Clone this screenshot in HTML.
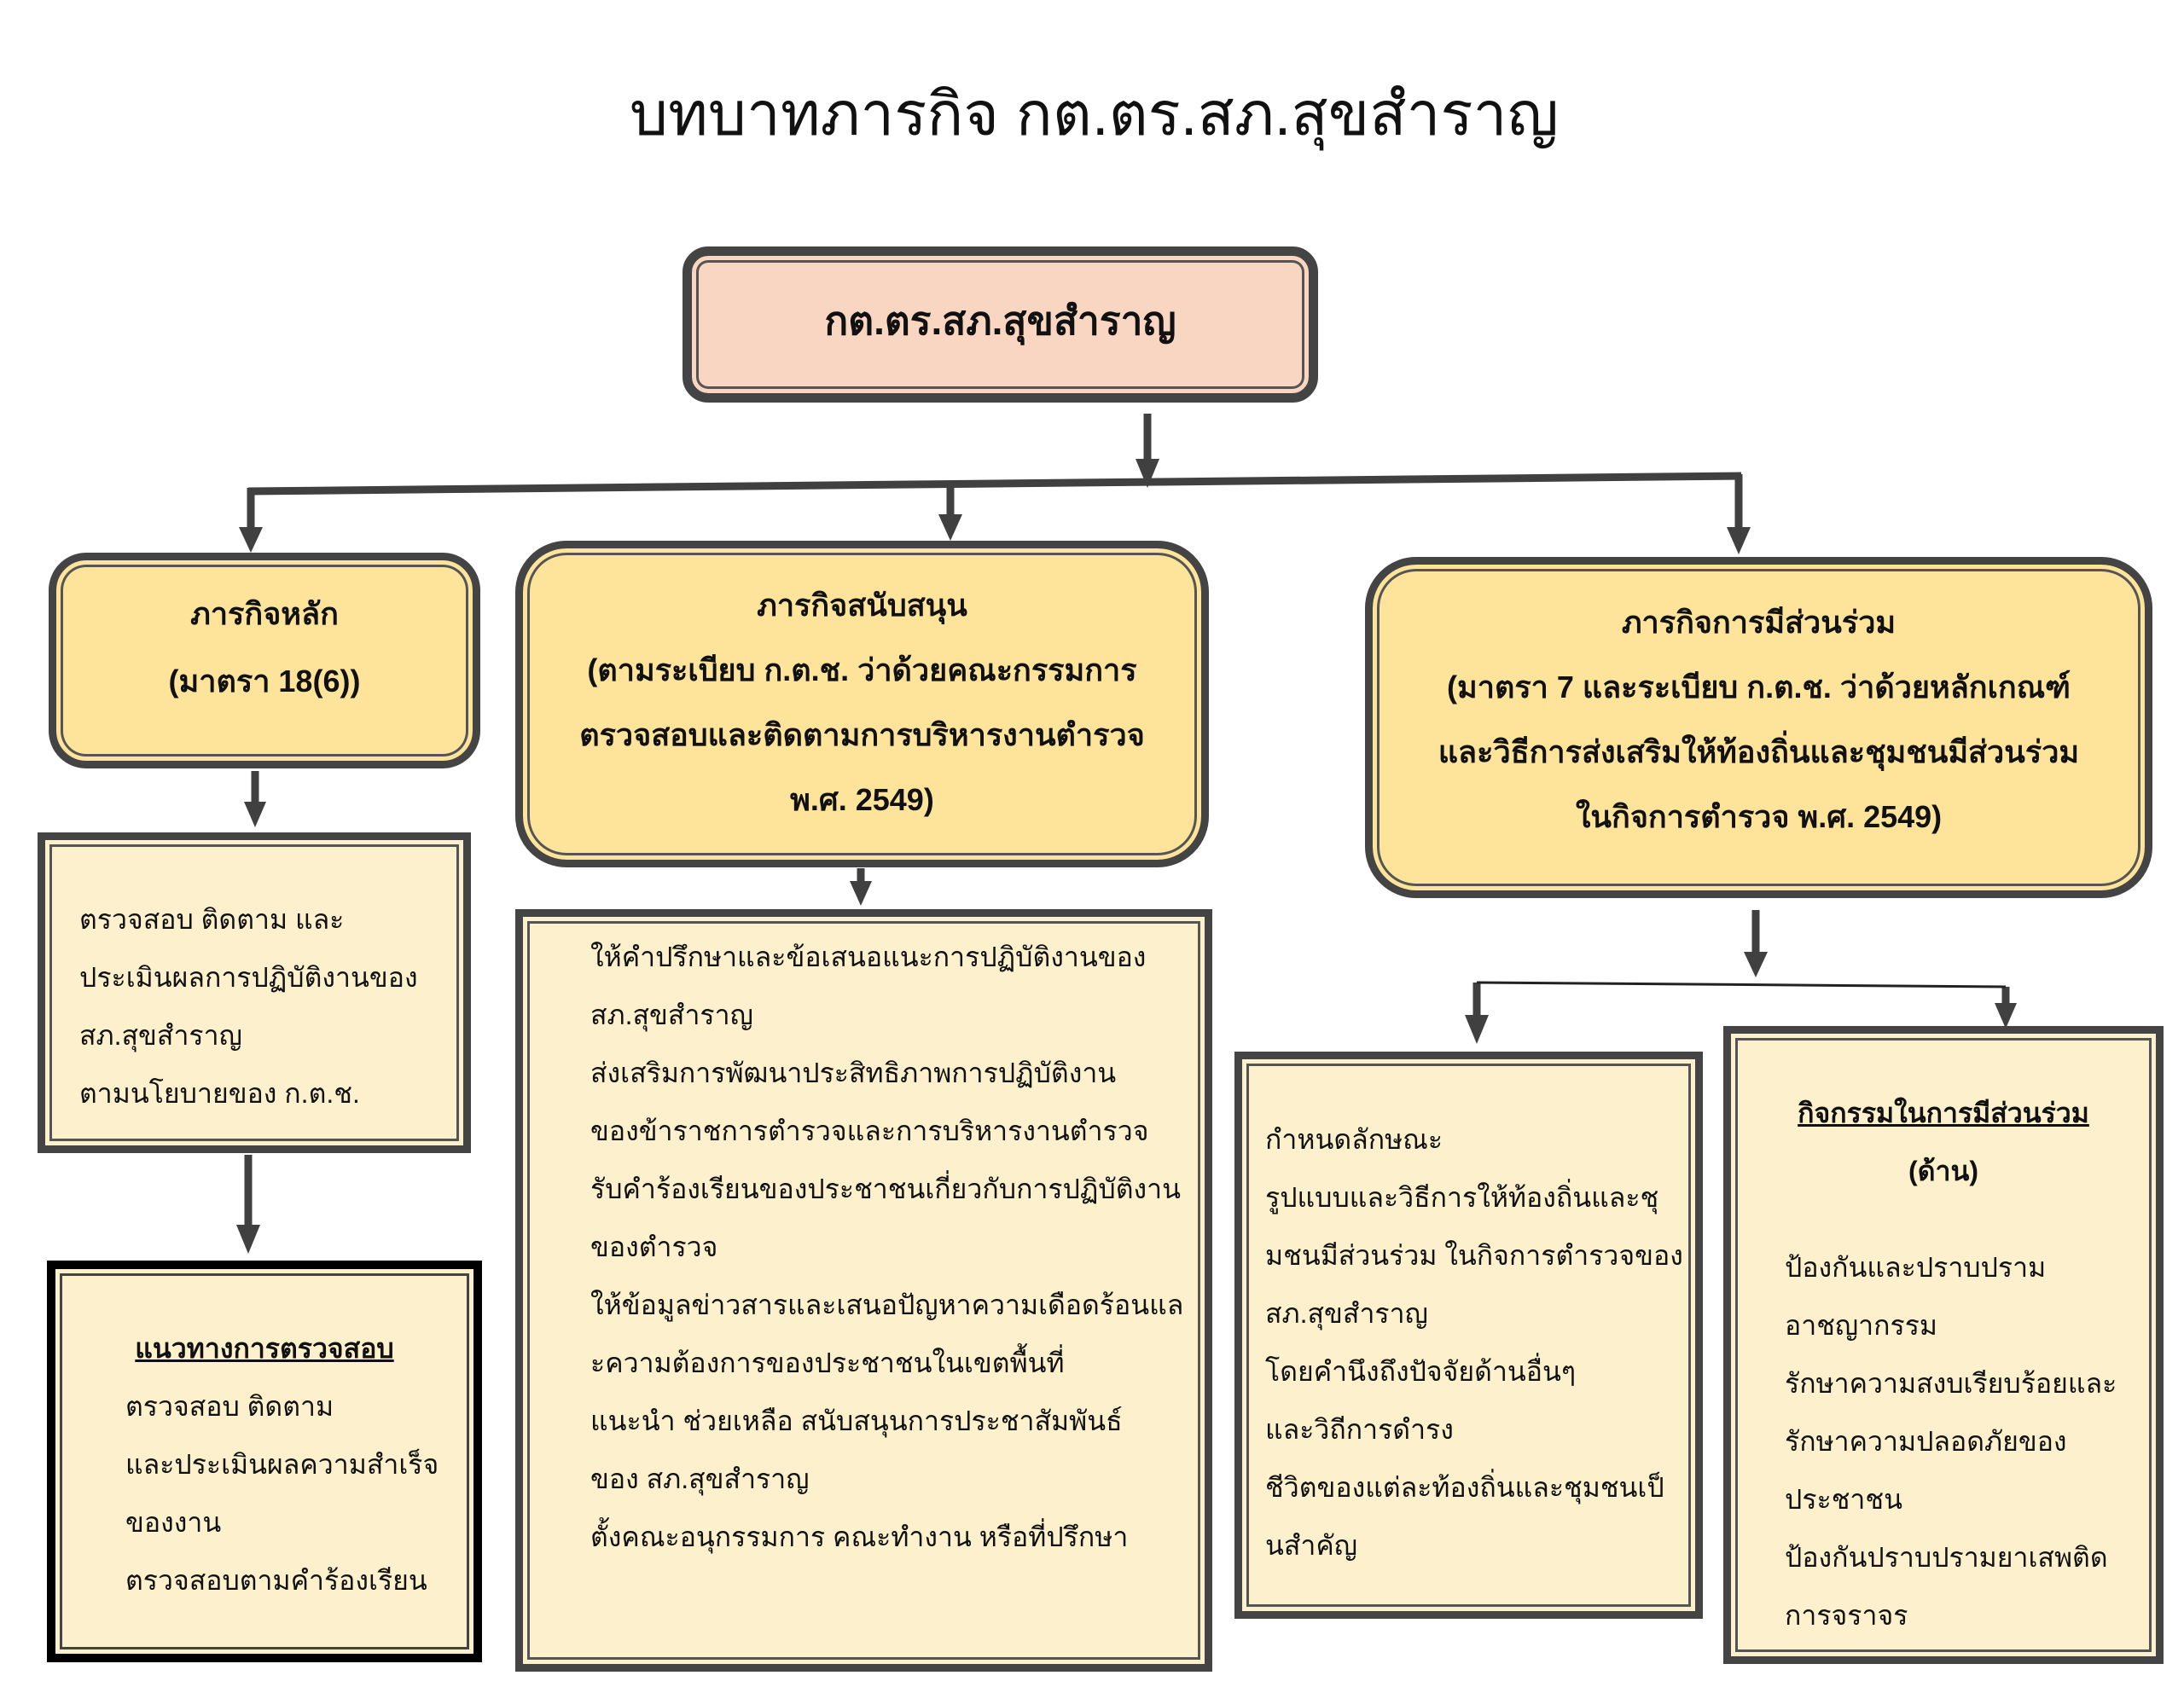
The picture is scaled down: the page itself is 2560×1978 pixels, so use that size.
<!DOCTYPE html>
<html><head><meta charset="utf-8"><style>
html,body{margin:0;padding:0;background:#fff;}
body{width:2560px;height:1978px;position:relative;overflow:hidden;font-family:"Liberation Sans","DejaVu Sans",sans-serif;color:#111;}
.b{position:absolute;box-sizing:border-box;border:9px solid #444;box-shadow:inset 0 0 0 5px var(--f),inset 0 0 0 8px #555;}
.r{border-radius:44px;}
.t{position:absolute;line-height:68px;font-size:32px;white-space:nowrap;}
.c{text-align:center;}
.bold{font-weight:bold;}
svg{position:absolute;left:0;top:0;}
</style></head><body>
<div class="t c" style="left:0;width:2565px;top:90px;line-height:90px;font-size:71px;">บทบาทภารกิจ กต.ตร.สภ.สุขสำราญ</div>

<div class="b r" style="--f:#f8d6c1;background:#f8d6c1;left:800px;top:289px;width:745px;height:183px;border-width:11px;border-radius:30px;"></div>
<div class="t c bold" style="left:800px;width:745px;top:336px;line-height:80px;font-size:46px;">กต.ตร.สภ.สุขสำราญ</div>

<div class="b r" style="--f:#fde49a;background:#fde49a;left:57px;top:648px;width:506px;height:253px;"></div>
<div class="t c bold" style="left:57px;width:506px;top:680px;line-height:79px;font-size:36px;">ภารกิจหลัก<br>(มาตรา 18(6))</div>

<div class="b r" style="--f:#fde49a;background:#fde49a;left:604px;top:634px;width:813px;height:383px;border-radius:60px;"></div>
<div class="t c bold" style="left:604px;width:813px;top:672px;line-height:76px;font-size:36px;">ภารกิจสนับสนุน<br>(ตามระเบียบ ก.ต.ช. ว่าด้วยคณะกรรมการ<br>ตรวจสอบและติดตามการบริหารงานตำรวจ<br>พ.ศ. 2549)</div>

<div class="b r" style="--f:#fde49a;background:#fde49a;left:1600px;top:653px;width:923px;height:400px;border-radius:60px;"></div>
<div class="t c bold" style="left:1600px;width:923px;top:692px;line-height:76px;font-size:36px;">ภารกิจการมีส่วนร่วม<br>(มาตรา 7 และระเบียบ ก.ต.ช. ว่าด้วยหลักเกณฑ์<br>และวิธีการส่งเสริมให้ท้องถิ่นและชุมชนมีส่วนร่วม<br>ในกิจการตำรวจ พ.ศ. 2549)</div>

<div class="b" style="--f:#fdf0cc;background:#fdf0cc;left:44px;top:976px;width:508px;height:376px;"></div>
<div class="t" style="left:93px;top:1044px;">ตรวจสอบ ติดตาม และ<br>ประเมินผลการปฏิบัติงานของ<br>สภ.สุขสำราญ<br>ตามนโยบายของ ก.ต.ช.</div>

<div class="b" style="--f:#fdf0cc;background:#fdf0cc;left:55px;top:1478px;width:510px;height:471px;border-color:#000;border-width:10px;box-shadow:inset 0 0 0 5px #fdf0cc,inset 0 0 0 8px #444;"></div>
<div class="t c bold" style="left:55px;width:510px;top:1547px;text-decoration:underline;">แนวทางการตรวจสอบ</div>
<div class="t" style="left:147px;top:1615px;">ตรวจสอบ ติดตาม<br>และประเมินผลความสำเร็จ<br>ของงาน<br>ตรวจสอบตามคำร้องเรียน</div>

<div class="b" style="--f:#fdf0cc;background:#fdf0cc;left:604px;top:1066px;width:817px;height:894px;"></div>
<div class="t" style="left:692px;top:1088px;">ให้คำปรึกษาและข้อเสนอแนะการปฏิบัติงานของ<br>สภ.สุขสำราญ<br>ส่งเสริมการพัฒนาประสิทธิภาพการปฏิบัติงาน<br>ของข้าราชการตำรวจและการบริหารงานตำรวจ<br>รับคำร้องเรียนของประชาชนเกี่ยวกับการปฏิบัติงาน<br>ของตำรวจ<br>ให้ข้อมูลข่าวสารและเสนอปัญหาความเดือดร้อนแล<br>ะความต้องการของประชาชนในเขตพื้นที่<br>แนะนำ ช่วยเหลือ สนับสนุนการประชาสัมพันธ์<br>ของ สภ.สุขสำราญ<br>ตั้งคณะอนุกรรมการ คณะทำงาน หรือที่ปรึกษา</div>

<div class="b" style="--f:#fdf0cc;background:#fdf0cc;left:1447px;top:1233px;width:549px;height:665px;"></div>
<div class="t" style="left:1483px;top:1302px;">กำหนดลักษณะ<br>รูปแบบและวิธีการให้ท้องถิ่นและชุ<br>มชนมีส่วนร่วม ในกิจการตำรวจของ<br>สภ.สุขสำราญ<br>โดยคำนึงถึงปัจจัยด้านอื่นๆ<br>และวิถีการดำรง<br>ชีวิตของแต่ละท้องถิ่นและชุมชนเป็<br>นสำคัญ</div>

<div class="b" style="--f:#fdf0cc;background:#fdf0cc;left:2020px;top:1203px;width:516px;height:748px;"></div>
<div class="t c bold" style="left:2020px;width:516px;top:1271px;"><u>กิจกรรมในการมีส่วนร่วม</u><br>(ด้าน)</div>
<div class="t" style="left:2092px;top:1452px;">ป้องกันและปราบปราม<br>อาชญากรรม<br>รักษาความสงบเรียบร้อยและ<br>รักษาความปลอดภัยของ<br>ประชาชน<br>ป้องกันปราบปรามยาเสพติด<br>การจราจร</div>

<svg width="2560" height="1978" viewBox="0 0 2560 1978">
<g stroke="#404040" stroke-width="9" fill="none">
<line x1="1345" y1="485" x2="1345" y2="540"/>
<line x1="291" y1="576" x2="2041" y2="558"/>
<line x1="294" y1="572" x2="294" y2="620"/>
<line x1="1114" y1="568" x2="1114" y2="605"/>
<line x1="2038" y1="556" x2="2038" y2="620"/>
<line x1="299" y1="904" x2="299" y2="942"/>
<line x1="291" y1="1354" x2="291" y2="1438"/>
<line x1="1009" y1="1018" x2="1009" y2="1035"/>
<line x1="2058" y1="1067" x2="2058" y2="1118"/>
<line x1="1731" y1="1152" x2="1731" y2="1192"/>
<line x1="2351" y1="1157" x2="2351" y2="1178"/>
</g>
<line x1="1731" y1="1152" x2="2351" y2="1157" stroke="#222" stroke-width="3"/>
<g fill="#404040">
<polygon points="1331,538 1359,538 1345,572"/>
<polygon points="280,618 308,618 294,648"/>
<polygon points="1100,603 1128,603 1114,634"/>
<polygon points="2024,618 2052,618 2038,650"/>
<polygon points="286,940 312,940 299,970"/>
<polygon points="277,1436 305,1436 291,1470"/>
<polygon points="996,1033 1022,1033 1009,1062"/>
<polygon points="2044,1116 2072,1116 2058,1146"/>
<polygon points="1717,1190 1745,1190 1731,1224"/>
<polygon points="2338,1176 2364,1176 2351,1206"/>
</g>
</svg>
</body></html>
